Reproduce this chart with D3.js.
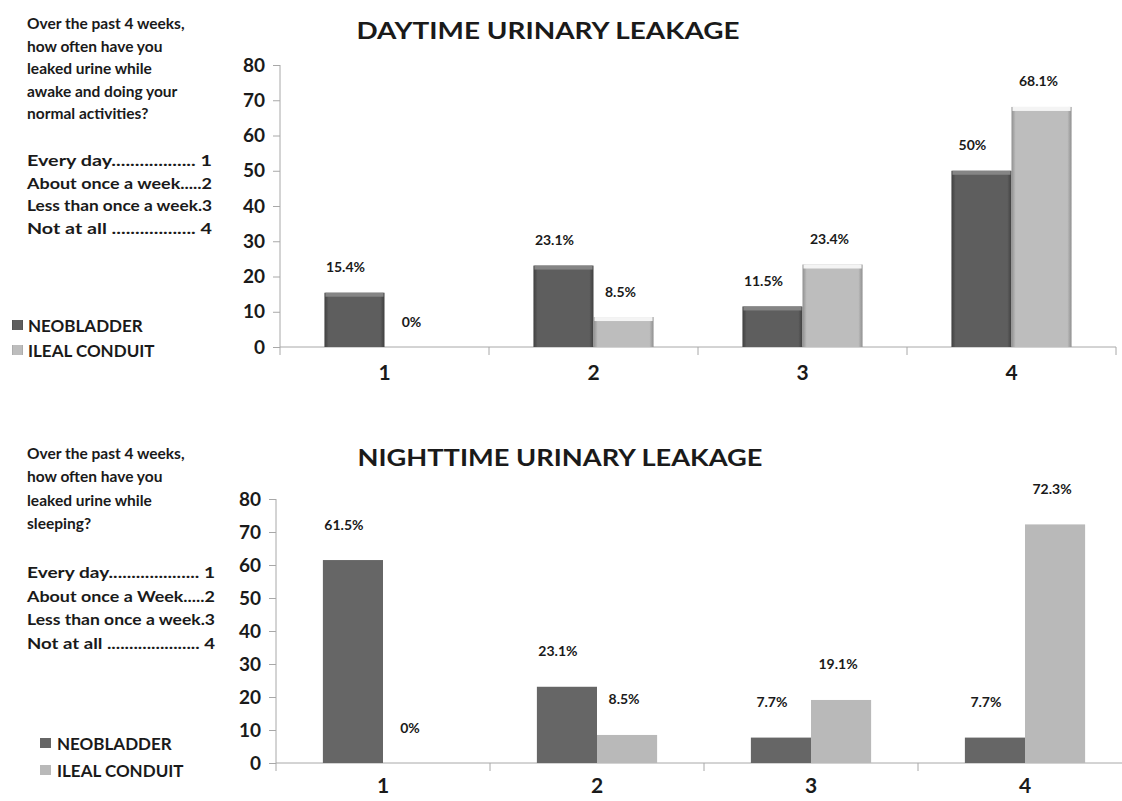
<!DOCTYPE html>
<html>
<head>
<meta charset="utf-8">
<script src="https://cdn.jsdelivr.net/npm/d3@7"></script>
<style>
  body { margin: 0; background: #fff; }
  text { font-family: Lato, "Open Sans", sans-serif; fill: #1a1a1a; }
</style>
</head>
<body>
<div id="viz"></div>
<script>
// data
const categories = ["1", "2", "3", "4"];
const seriesNames = ["NEOBLADDER", "ILEAL CONDUIT"];
const yTicks = [0, 10, 20, 30, 40, 50, 60, 70, 80];

const dayNeobladder = [15.4, 23.1, 11.5, 50];
const dayIleal = [0, 8.5, 23.4, 68.1];
const nightNeobladder = [61.5, 23.1, 7.7, 7.7];
const nightIleal = [0, 8.5, 19.1, 72.3];

const dayQuestion = ["Over the past 4 weeks,", "how often have you", "leaked urine while", "awake and doing your", "normal activities?"];
const dayOptions = ["Every day.................. 1", "About once a week.....2", "Less than once a week.3", "Not at all .................. 4"];
const nightQuestion = ["Over the past 4 weeks,", "how often have you", "leaked urine while", "sleeping?"];
const nightOptions = ["Every day.................... 1", "About once a Week.....2", "Less than once a week.3", "Not at all ..................... 4"];

const svg = d3.select("#viz").append("svg")
  .attr("width", 1122).attr("height", 801);

// gradients for the bevelled top chart
const defs = svg.append("defs");
function sideGrad(id, edge, mid) {
  const g = defs.append("linearGradient").attr("id", id).attr("x1", 0).attr("x2", 1).attr("y1", 0).attr("y2", 0);
  [[0, edge], [0.07, mid], [0.93, mid], [1, edge]].forEach(s =>
    g.append("stop").attr("offset", s[0]).attr("stop-color", s[1]));
}
sideGrad("gDark", "#3f3f3f", "#5e5e5e");
sideGrad("gLight", "#8f8f8f", "#bdbdbd");

function drawPanel(cfg) {
  const { top, zeroY, axisX, band, neo, ileal, bevel } = cfg;

  const y = d3.scaleLinear().domain([0, 80]).range([zeroY, top]);
  const x = d3.scaleBand().domain(categories).range([axisX, axisX + band * 4]);
  const xs = d3.scaleBand().domain(seriesNames).range([0, x.bandwidth()])
    .paddingInner(0).paddingOuter(cfg.outer);

  const g = svg.append("g");

  // y axis
  const yAxis = g.append("g")
    .attr("transform", `translate(${axisX},0)`)
    .call(d3.axisLeft(y).tickValues(yTicks).tickSize(7).tickPadding(8).tickSizeOuter(0));
  yAxis.select(".domain").attr("stroke", "#a8a8a8").attr("d", `M0,${zeroY + 8}V${top}`);
  yAxis.selectAll(".tick line").attr("stroke", "#a8a8a8");
  yAxis.selectAll(".tick text")
    .style("font-size", "19px").style("font-weight", 700).attr("fill", "#1a1a1a");

  // x axis line + boundary ticks
  g.append("line").attr("x1", axisX).attr("x2", axisX + band * 4)
    .attr("y1", zeroY).attr("y2", zeroY).attr("stroke", "#a8a8a8");
  g.selectAll(".xtick").data(categories.slice(1).concat(["end"]))
    .enter().append("line")
    .attr("x1", (d, i) => axisX + band * (i + 1))
    .attr("x2", (d, i) => axisX + band * (i + 1))
    .attr("y1", zeroY).attr("y2", zeroY + 8).attr("stroke", "#a8a8a8");

  g.selectAll(".xlab").data(categories).enter().append("text")
    .attr("x", d => x(d) + x.bandwidth() / 2)
    .attr("y", zeroY + cfg.xLabelDy)
    .attr("text-anchor", "middle")
    .style("font-size", "21px").style("font-weight", 700)
    .text(d => d);

  // bars
  const rows = [];
  categories.forEach((c, i) => {
    rows.push({ cat: c, s: seriesNames[0], v: neo[i] });
    rows.push({ cat: c, s: seriesNames[1], v: ileal[i] });
  });

  const barG = g.selectAll(".bar").data(rows).enter().append("g");
  barG.append("rect")
    .attr("x", d => x(d.cat) + xs(d.s))
    .attr("y", d => y(d.v))
    .attr("width", xs.bandwidth())
    .attr("height", d => y(0) - y(d.v))
    .attr("fill", d => bevel ? (d.s === seriesNames[0] ? "url(#gDark)" : "url(#gLight)")
                             : (d.s === seriesNames[0] ? "#666666" : "#b9b9b9"));
  if (bevel) {
    barG.filter(d => d.v > 0).append("rect")
      .attr("x", d => x(d.cat) + xs(d.s) + 1)
      .attr("y", d => y(d.v))
      .attr("width", xs.bandwidth() - 2)
      .attr("height", 4)
      .attr("fill", d => d.s === seriesNames[0] ? "#858585" : "#f4f4f4");
  }

  // value labels
  g.selectAll(".val").data(rows).enter().append("text")
    .attr("x", d => x(d.cat) + xs(d.s) + xs.bandwidth() / 2 + (d.s === seriesNames[0] ? -9 : -3))
    .attr("y", d => y(d.v) - cfg.labelGap)
    .attr("text-anchor", "middle")
    .attr("dominant-baseline", "central")
    .style("font-size", "14px").style("font-weight", 700)
    .attr("fill", "#222")
    .text(d => d.v + "%");

  // title
  svg.append("text")
    .attr("x", cfg.titleX).attr("y", cfg.titleY)
    .attr("text-anchor", "middle")
    .attr("dominant-baseline", "central")
    .attr("textLength", cfg.titleW).attr("lengthAdjust", "spacingAndGlyphs")
    .style("font-size", "22px").style("font-weight", 700)
    .text(cfg.title);

  // left question text
  svg.selectAll(null).data(cfg.question).enter().append("text")
    .attr("x", 27).attr("y", (d, i) => cfg.qY + i * cfg.qStep)
    .attr("dominant-baseline", "central")
    .style("font-size", "15.5px").style("font-weight", 700)
    .attr("fill", "#2a2a2a")
    .text(d => d);

  svg.selectAll(null).data(cfg.options).enter().append("text")
    .attr("x", 27).attr("y", (d, i) => cfg.oY + i * cfg.oStep)
    .attr("dominant-baseline", "central")
    .attr("textLength", cfg.optW).attr("lengthAdjust", "spacingAndGlyphs")
    .style("font-size", "15px").style("font-weight", 700)
    .attr("fill", "#2a2a2a")
    .text(d => d);

  // legend
  const leg = svg.selectAll(null).data(seriesNames).enter().append("g")
    .attr("transform", (d, i) => `translate(${cfg.legX},${cfg.legY + i * cfg.legStep})`);
  leg.append("rect").attr("x", 0).attr("y", -5).attr("width", 11).attr("height", 10)
    .attr("fill", (d, i) => bevel ? (i === 0 ? "url(#gDark)" : "url(#gLight)") : (i === 0 ? "#666666" : "#b9b9b9"));
  leg.append("text").attr("x", cfg.legTextDx).attr("y", 0)
    .attr("dominant-baseline", "central")
    .style("font-size", "17px").style("font-weight", 700)
    .attr("fill", "#2a2a2a")
    .text(d => d);
}

drawPanel({
  title: "DAYTIME URINARY LEAKAGE", titleX: 548, titleY: 30, titleW: 383,
  top: 65, zeroY: 347, axisX: 280, band: 209, outer: 0.74,
  neo: dayNeobladder, ileal: dayIleal, bevel: true,
  labelGap: 26, xLabelDy: 33,
  question: dayQuestion, qY: 23, qStep: 22.5,
  options: dayOptions, oY: 160, oStep: 22.7, optW: 185,
  legX: 12, legY: 325, legStep: 25, legTextDx: 16
});

drawPanel({
  title: "NIGHTTIME URINARY LEAKAGE", titleX: 560, titleY: 457, titleW: 405,
  top: 499, zeroY: 763, axisX: 276, band: 214, outer: 0.78,
  neo: nightNeobladder, ileal: nightIleal, bevel: false,
  labelGap: 36, xLabelDy: 30,
  question: nightQuestion, qY: 453, qStep: 23.3,
  options: nightOptions, oY: 572, oStep: 23.6, optW: 188,
  legX: 40, legY: 743, legStep: 27, legTextDx: 17
});
</script>
</body>
</html>
